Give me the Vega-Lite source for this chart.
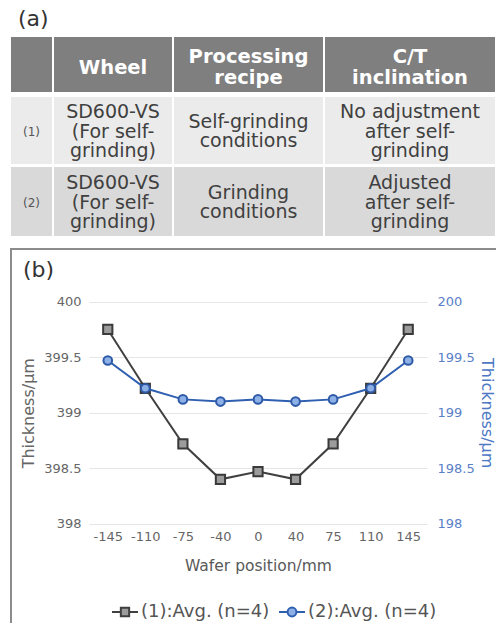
{
 "$schema": "https://vega.github.io/schema/vega-lite/v6.json",
 "background": "white",
 "padding": {"left": 10, "top": 8, "right": 0, "bottom": 0},
 "config": {"font": "DejaVu Sans", "view": {"stroke": null}},
 "resolve": {"legend": {"color": "independent"}, "scale": {"color": "independent"}},
 "datasets": {
  "table": [
   {"row": "H", "col": 0, "text": ""},
   {"row": "H", "col": 1, "text": "Wheel"},
   {"row": "H", "col": 2, "text": "Processing\nrecipe"},
   {"row": "H", "col": 3, "text": "C/T\ninclination"},
   {"row": "R1", "col": 0, "text": "(1)"},
   {"row": "R1", "col": 1, "text": "SD600-VS\n(For self-\ngrinding)"},
   {"row": "R1", "col": 2, "text": "Self-grinding\nconditions"},
   {"row": "R1", "col": 3, "text": "No adjustment\nafter self-\ngrinding"},
   {"row": "R2", "col": 0, "text": "(2)"},
   {"row": "R2", "col": 1, "text": "SD600-VS\n(For self-\ngrinding)"},
   {"row": "R2", "col": 2, "text": "Grinding\nconditions"},
   {"row": "R2", "col": 3, "text": "Adjusted\nafter self-\ngrinding"}
  ],
  "thickness": [
   {"pos": "-145", "series": "(1):Avg. (n=4)", "value": 399.75},
   {"pos": "-110", "series": "(1):Avg. (n=4)", "value": 399.22},
   {"pos": "-75", "series": "(1):Avg. (n=4)", "value": 398.72},
   {"pos": "-40", "series": "(1):Avg. (n=4)", "value": 398.4},
   {"pos": "0", "series": "(1):Avg. (n=4)", "value": 398.47},
   {"pos": "40", "series": "(1):Avg. (n=4)", "value": 398.4},
   {"pos": "75", "series": "(1):Avg. (n=4)", "value": 398.72},
   {"pos": "110", "series": "(1):Avg. (n=4)", "value": 399.22},
   {"pos": "145", "series": "(1):Avg. (n=4)", "value": 399.75},
   {"pos": "-145", "series": "(2):Avg. (n=4)", "value": 199.47},
   {"pos": "-110", "series": "(2):Avg. (n=4)", "value": 199.22},
   {"pos": "-75", "series": "(2):Avg. (n=4)", "value": 199.12},
   {"pos": "-40", "series": "(2):Avg. (n=4)", "value": 199.1},
   {"pos": "0", "series": "(2):Avg. (n=4)", "value": 199.12},
   {"pos": "40", "series": "(2):Avg. (n=4)", "value": 199.1},
   {"pos": "75", "series": "(2):Avg. (n=4)", "value": 199.12},
   {"pos": "110", "series": "(2):Avg. (n=4)", "value": 199.22},
   {"pos": "145", "series": "(2):Avg. (n=4)", "value": 199.47}
  ]
 },
 "spacing": 12,
 "vconcat": [
  {
   "title": {"text": "(a)", "anchor": "start", "fontSize": 22, "fontWeight": "normal", "color": "#333333", "dx": 7, "offset": 6},
   "spacing": 5,
   "vconcat": [
    {"spacing": 2, "hconcat": [
     {"width": 41, "height": 55, "view": {"fill": "#7f7f7f", "stroke": null}, "data": {"name": "table"}, "transform": [{"filter": "datum.row == 'H' && datum.col == 0"}], "mark": {"type": "text", "lineBreak": "\n", "fontSize": 19.5, "lineHeight": 21, "fontWeight": "bold", "color": "white", "dy": 3}, "encoding": {"text": {"field": "text"}}},
     {"width": 118, "height": 55, "view": {"fill": "#7f7f7f", "stroke": null}, "data": {"name": "table"}, "transform": [{"filter": "datum.row == 'H' && datum.col == 1"}], "mark": {"type": "text", "lineBreak": "\n", "fontSize": 19.5, "lineHeight": 21, "fontWeight": "bold", "color": "white", "dy": 3}, "encoding": {"text": {"field": "text"}}},
     {"width": 149, "height": 55, "view": {"fill": "#7f7f7f", "stroke": null}, "data": {"name": "table"}, "transform": [{"filter": "datum.row == 'H' && datum.col == 2"}], "mark": {"type": "text", "lineBreak": "\n", "fontSize": 19.5, "lineHeight": 21, "fontWeight": "bold", "color": "white", "dy": -7.5}, "encoding": {"text": {"field": "text"}}},
     {"width": 170, "height": 55, "view": {"fill": "#7f7f7f", "stroke": null}, "data": {"name": "table"}, "transform": [{"filter": "datum.row == 'H' && datum.col == 3"}], "mark": {"type": "text", "lineBreak": "\n", "fontSize": 19.5, "lineHeight": 21, "fontWeight": "bold", "color": "white", "dy": -7.5}, "encoding": {"text": {"field": "text"}}}
    ]},
    {"spacing": 3, "vconcat": [
     {"spacing": 2, "hconcat": [
      {"width": 41, "height": 67, "view": {"fill": "#ebebeb", "stroke": null}, "data": {"name": "table"}, "transform": [{"filter": "datum.row == 'R1' && datum.col == 0"}], "mark": {"type": "text", "lineBreak": "\n", "fontSize": 12, "color": "#555555", "dy": 1}, "encoding": {"text": {"field": "text"}}},
      {"width": 118, "height": 67, "view": {"fill": "#ebebeb", "stroke": null}, "data": {"name": "table"}, "transform": [{"filter": "datum.row == 'R1' && datum.col == 1"}], "mark": {"type": "text", "lineBreak": "\n", "fontSize": 19, "lineHeight": 19.5, "color": "#404040", "dy": -18.5}, "encoding": {"text": {"field": "text"}}},
      {"width": 149, "height": 67, "view": {"fill": "#ebebeb", "stroke": null}, "data": {"name": "table"}, "transform": [{"filter": "datum.row == 'R1' && datum.col == 2"}], "mark": {"type": "text", "lineBreak": "\n", "fontSize": 19, "lineHeight": 19.5, "color": "#404040", "dy": -8.75}, "encoding": {"text": {"field": "text"}}},
      {"width": 170, "height": 67, "view": {"fill": "#ebebeb", "stroke": null}, "data": {"name": "table"}, "transform": [{"filter": "datum.row == 'R1' && datum.col == 3"}], "mark": {"type": "text", "lineBreak": "\n", "fontSize": 19, "lineHeight": 19.5, "color": "#404040", "dy": -18.5}, "encoding": {"text": {"field": "text"}}}
     ]},
     {"spacing": 2, "hconcat": [
      {"width": 41, "height": 69, "view": {"fill": "#d9d9d9", "stroke": null}, "data": {"name": "table"}, "transform": [{"filter": "datum.row == 'R2' && datum.col == 0"}], "mark": {"type": "text", "lineBreak": "\n", "fontSize": 12, "color": "#555555", "dy": 1}, "encoding": {"text": {"field": "text"}}},
      {"width": 118, "height": 69, "view": {"fill": "#d9d9d9", "stroke": null}, "data": {"name": "table"}, "transform": [{"filter": "datum.row == 'R2' && datum.col == 1"}], "mark": {"type": "text", "lineBreak": "\n", "fontSize": 19, "lineHeight": 19.5, "color": "#404040", "dy": -18.5}, "encoding": {"text": {"field": "text"}}},
      {"width": 149, "height": 69, "view": {"fill": "#d9d9d9", "stroke": null}, "data": {"name": "table"}, "transform": [{"filter": "datum.row == 'R2' && datum.col == 2"}], "mark": {"type": "text", "lineBreak": "\n", "fontSize": 19, "lineHeight": 19.5, "color": "#404040", "dy": -8.75}, "encoding": {"text": {"field": "text"}}},
      {"width": 170, "height": 69, "view": {"fill": "#d9d9d9", "stroke": null}, "data": {"name": "table"}, "transform": [{"filter": "datum.row == 'R2' && datum.col == 3"}], "mark": {"type": "text", "lineBreak": "\n", "fontSize": 19, "lineHeight": 19.5, "color": "#404040", "dy": -18.5}, "encoding": {"text": {"field": "text"}}}
     ]}
    ]}
   ]
  },
  {
   "width": 500,
   "height": 472,
   "view": {"stroke": "#8c8c8c", "strokeWidth": 2},
   "title": {"text": "(b)", "anchor": "start", "frame": "group", "offset": -50, "dx": 12, "fontSize": 22, "fontWeight": "normal", "color": "#333333", "baseline": "alphabetic"},
   "data": {"name": "thickness"},
   "encoding": {
    "x": {"field": "pos", "type": "ordinal",
     "scale": {"type": "point", "domain": ["-145", "-110", "-75", "-40", "0", "40", "75", "110", "145"], "range": [78, 416], "padding": 0.5},
     "axis": {"orient": "bottom", "offset": -197.3, "domain": false, "ticks": false, "grid": false, "labelAngle": 0, "labelPadding": 7, "labelFontSize": 13, "labelColor": "#666666", "title": "Wafer position/mm", "titleFontSize": 15.5, "titleFontWeight": "normal", "titleColor": "#595959", "titlePadding": 15}}
   },
   "layer": [
    {
     "transform": [{"filter": "datum.series == '(1):Avg. (n=4)'"}],
     "encoding": {
      "y": {"field": "value", "type": "quantitative",
       "scale": {"domain": [398, 400], "range": [274.7, 52.7], "zero": false, "nice": false},
       "axis": {"orient": "left", "offset": -78, "values": [398, 398.5, 399, 399.5, 400], "format": "~g", "domain": false, "ticks": false, "grid": true, "gridColor": "#e6e6e6", "labelPadding": 8, "labelFontSize": 13, "labelColor": "#666666", "title": "Thickness/μm", "titleFontSize": 16, "titleFontWeight": "normal", "titleColor": "#666666", "titlePadding": 7}}
     },
     "layer": [
      {"mark": {"type": "line", "strokeWidth": 2},
       "encoding": {"color": {"field": "series", "type": "nominal",
        "scale": {"domain": ["(1):Avg. (n=4)", "(2):Avg. (n=4)"], "range": ["#404040", "#2f5fb0"]},
        "legend": {"orient": "bottom-left", "offset": 100, "direction": "horizontal", "title": null, "labelFontSize": 18, "labelColor": "#555555", "symbolSize": 676, "symbolStrokeWidth": 2, "labelOffset": 2, "columnPadding": 5, "labelLimit": 300,
         "encode": {"symbols": {"update": {
          "shape": {"signal": "datum.value === '(1):Avg. (n=4)' ? 'M-1,0H-0.32M0.32,0H1M-0.32,-0.32H0.32V0.32H-0.32Z' : 'M-1,0H-0.34M0.34,0H1M-0.34,0A0.34,0.34,0,1,1,0.34,0A0.34,0.34,0,1,1,-0.34,0Z'"},
          "fill": {"signal": "datum.value === '(1):Avg. (n=4)' ? '#9c9c9c' : '#8db0e6'"},
          "opacity": {"value": 1}
         }}}}}}},
      {"mark": {"type": "point", "shape": "square", "filled": true, "size": 85, "fill": "#9c9c9c", "stroke": "#3a3a3a", "strokeWidth": 2, "opacity": 1}}
     ]
    },
    {
     "transform": [{"filter": "datum.series == '(2):Avg. (n=4)'"}],
     "encoding": {
      "y": {"field": "value", "type": "quantitative",
       "scale": {"domain": [198, 200], "range": [274.7, 52.7], "zero": false, "nice": false},
       "axis": {"orient": "right", "offset": -84, "values": [198, 198.5, 199, 199.5, 200], "format": "~g", "domain": false, "ticks": false, "grid": false, "labelPadding": 10, "labelFontSize": 13, "labelColor": "#5a80c8", "title": "Thickness/μm", "titleFontSize": 16, "titleFontWeight": "normal", "titleColor": "#4d78c4", "titlePadding": 4}}
     },
     "layer": [
      {"mark": {"type": "line", "strokeWidth": 2},
       "encoding": {"color": {"field": "series", "type": "nominal",
        "scale": {"domain": ["(1):Avg. (n=4)", "(2):Avg. (n=4)"], "range": ["#404040", "#2f5fb0"]}}}},
      {"mark": {"type": "point", "shape": "circle", "filled": true, "size": 75, "fill": "#8db0e6", "stroke": "#2e5aa8", "strokeWidth": 2, "opacity": 1}}
     ]
    }
   ],
   "resolve": {"scale": {"y": "independent"}}
  }
 ]
}
